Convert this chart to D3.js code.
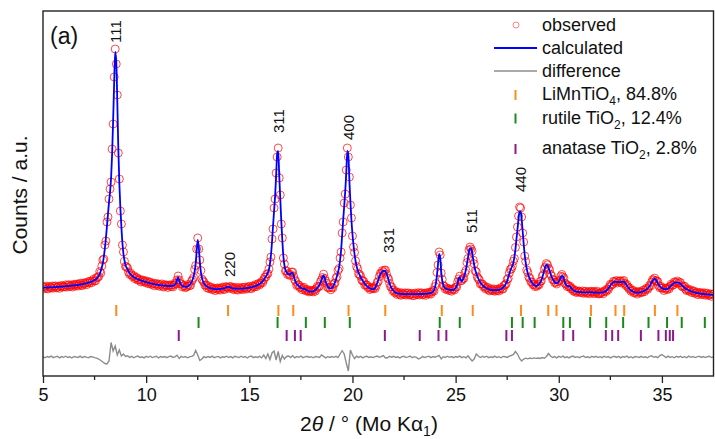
<!DOCTYPE html>
<html><head><meta charset="utf-8">
<script src="https://cdn.jsdelivr.net/npm/d3@7"></script>
<style>body{margin:0;background:#fff}svg{display:block}text{font-family:"Liberation Sans",Arial,sans-serif}</style>
</head><body><svg id="c" width="715" height="439"></svg>
<script>
// 2theta sampling grid of the observed / calculated profiles
const thetaStart = 5, thetaStep = 0.05;
const diffStep = 0.1;

const observed = [
13.2,11.1,12.8,13.9,11.8,11.1,13.6,12.7,12.2,14.0,11.8,13.5,14.1,12.1,12.9,13.9,11.7,13.6,14.5,12.9,
13.7,13.2,15.1,12.9,14.6,15.3,13.3,14.1,15.2,13.0,14.9,15.8,14.2,15.8,13.9,15.6,16.9,14.9,14.4,17.0,
16.0,17.2,15.2,17.3,18.4,17.0,18.9,17.2,19.2,20.8,19.2,19.2,22.4,22.7,23.5,28.5,27.0,34.0,40.0,41.0,
55,59,78,83,101,111,118,151,176,223,251,236,205,147,121,89,76,55,48,38.6,
33.5,33.2,32.0,27.8,25.6,26.8,24.8,23.3,24.3,21.3,22.3,22.4,19.8,20.1,20.7,18.0,19.4,19.9,17.9,19.1,
17.4,18.9,16.3,17.6,17.9,15.6,16.0,16.8,14.3,15.9,16.5,14.6,15.9,13.7,15.1,16.1,13.8,13.0,15.3,14.3,
14.9,12.5,14.3,15.1,13.4,15.0,13.1,15.0,16.8,16.3,20.1,24.0,20.1,16.3,16.3,13.1,14.2,14.5,12.3,13.1,
14.0,15.6,14.2,14.7,18.8,20.3,22.5,30.5,34.5,51,62,51,40,29.5,21.0,19.3,17.9,14.7,15.1,12.2,
14.1,11.3,12.5,12.8,10.4,10.9,11.8,9.4,11.2,12.0,10.3,11.9,9.9,11.6,12.9,10.9,10.5,13.3,12.9,12.7,
11.7,13.2,13.5,11.4,12.6,10.3,11.8,12.8,10.6,9.9,12.3,11.4,10.9,12.7,10.5,12.2,12.9,10.9,11.8,12.9,
13.8,11.8,11.3,14.0,13.4,13.1,15.3,13.4,15.5,16.6,15.1,16.6,18.5,17.3,20.4,22.8,23.0,25.9,26.3,30.9,
38,43,61,71,92,101,127,143,152,122,105,76,62,42,36,29,29.2,25.6,26.7,24.6,
25.3,27.8,28.0,23.6,20.3,18.6,14.5,15.3,15.1,12.4,13.1,10.4,11.7,12.7,10.3,9.0,10.6,9.1,8.1,9.7,
8.6,9.5,8.1,10.1,8.8,11.4,13.7,12.9,13.8,18.2,20.1,22.5,25.8,21.5,19.1,16.7,12.6,12.1,12.6,10.2,
12.7,12.1,16.2,17.0,21.6,23.2,29.5,31.5,42,48,67,78,97,106,130,152,143,123,95,82,
64,53,47.5,39.1,33.5,31.3,26.0,25.6,23.7,19.9,19.1,18.6,14.8,15.3,15.0,12.4,13.2,10.5,11.6,12.4,
11.4,12.4,11.4,14.3,17.8,18.5,23.3,26.6,26.7,29.4,28.0,29.7,30.0,25.8,22.1,21.0,16.6,13.3,13.1,9.3,
10.1,7.4,8.2,5.6,6.9,7.8,5.5,4.7,7.0,6.1,5.4,7.2,4.9,6.5,7.1,5.0,5.7,6.7,4.4,6.2,
4.5,6.9,6.0,5.4,7.3,5.0,6.6,7.2,5.1,5.9,6.9,4.7,6.6,7.5,6.0,7.7,5.9,7.9,9.7,8.9,
13.5,16.5,27.5,35,48,45,27,20.5,14.5,13.6,10.9,12.1,10.2,11.4,9.5,10.9,8.8,10.6,11.2,10.1,
12.9,13.0,18.2,21.0,23.8,19.2,19.6,21.2,21.8,27.1,29.6,37.5,41.5,50.0,53.0,51.0,48.8,40,36.2,29.1,
28.2,23.1,21.3,20.1,16.0,16.3,15.9,13.2,13.9,11.1,12.1,12.7,10.1,9.1,11.2,10.1,9.4,11.1,8.8,10.4,
9.3,10.9,9.0,10.9,12.5,10.9,11.1,14.6,15.1,16.3,20.6,21.5,27.0,30.5,31.1,33.8,38.8,41.5,52.5,63,
73,84,93,92,83,67,58,44,38.5,30,27.5,22.6,21.8,18.2,17.9,15.3,15.6,13.4,14.8,13.8,
15.6,15.3,18.6,19.0,23.8,25.4,31.2,33.0,36.5,35.2,31.8,30.3,25.8,24.1,20.5,20.2,17.3,17.8,16.0,18.0,
19.2,19.6,23.7,25.5,23.2,21.8,16.7,15.9,13.5,14.8,13.1,13.7,11.2,11.6,9.1,9.9,8.0,9.3,7.4,8.6,
8.9,7.9,7.3,9.0,6.7,8.2,8.8,6.7,7.4,8.5,6.3,8.1,8.8,7.0,8.4,6.3,7.9,8.9,6.7,6.0,
6.5,7.2,8.3,6.2,8.3,9.6,8.6,11.1,10.2,13.2,15.8,15.0,15.5,18.7,18.3,17.8,19.5,17.0,18.5,19.1,
18.9,17.0,18.7,19.6,16.6,14.6,15.5,13.1,11.2,11.9,8.7,9.6,9.6,7.1,7.5,8.3,5.9,7.7,8.6,7.1,
8.1,7.8,10.0,8.2,10.4,11.7,10.5,12.3,14.7,14.1,17.8,20.4,20.0,21.9,19.2,19.2,18.3,14.3,12.2,13.6,
11.7,12.2,9.5,11.1,11.9,10.4,12.4,11.1,13.7,15.9,14.8,15.0,18.1,17.6,17.2,19.0,16.5,17.6,17.4,14.3,
13.0,13.6,13.8,10.8,9.4,11.2,9.8,8.7,10.1,7.4,8.7,9.0,6.6,7.0,7.8,5.3,6.9,7.5,5.7,7.0,
5.5,7.2,4.8,6.3,6.8,4.6,5.2,6.1,3.7,5.4,6.1];

const calculated = [
12.3,12.3,12.4,12.4,12.5,12.5,12.6,12.6,12.7,12.7,12.8,12.9,12.9,13.0,13.1,13.1,13.2,13.3,13.4,13.5,
13.6,13.7,13.8,13.9,14.0,14.1,14.2,14.3,14.4,14.5,14.6,14.7,14.8,14.9,15.1,15.2,15.4,15.6,15.8,16.0,
16.2,16.4,16.7,17.0,17.3,17.6,18.0,18.4,18.8,19.3,19.9,20.6,21.4,22.6,24.0,26.0,29.0,32.5,37.0,43.5,
52,62,74,86,98,108,122,146,180,218,248,239,200,152,117,92,73,57,46,39.5,
35,32.5,30.5,28.5,27,25.8,24.7,23.8,23,22.3,21.7,21.2,20.7,20.3,19.9,19.5,19.1,18.8,18.5,18.2,
17.9,17.6,17.3,17.0,16.7,16.5,16.2,16.0,15.8,15.6,15.4,15.2,15.0,14.9,14.7,14.6,14.5,14.4,14.3,14.2,
14.1,14.0,14.0,14.0,14.0,14.1,14.3,14.6,15.3,17.0,20.5,22.5,20.0,16.8,15.0,14.1,13.6,13.3,13.2,13.3,
13.6,14.1,14.9,16.1,17.8,20.2,23.5,28.5,36.5,49,60,53,39,28.5,22.5,19,16.8,15.3,14.2,13.4,
12.8,12.3,11.9,11.6,11.3,11.1,11.0,10.9,10.9,10.9,10.9,11.0,11.1,11.2,11.4,11.6,11.9,12.3,12.8,13.2,
13.2,12.9,12.4,12.0,11.7,11.5,11.4,11.3,11.3,11.3,11.3,11.3,11.4,11.4,11.5,11.6,11.7,11.8,12.0,12.1,
12.3,12.5,12.7,13.0,13.3,13.6,14.0,14.4,14.9,15.4,16.0,16.8,17.7,18.8,20.1,21.7,23.6,25,27.5,30.5,
36,45,58,74,89,104,124,146,149,125,102,79,60,44,35,30,28,26.5,25.5,25.5,
26.3,27.2,26.8,24.5,20.5,17.8,16.0,15.0,14.0,13.0,12.2,11.6,11.3,11.2,11.0,10.4,9.6,9.0,8.6,8.4,
8.3,8.4,8.7,9.2,10.0,11.0,12.2,13.6,15.2,17.2,20.0,23.0,24.5,22.5,18.5,15.5,13.5,12.3,11.8,11.7,
12.0,13.0,15.0,17.5,20.5,24,28,32.5,40,50,65,80,94,109,127,149,145,120,98,80,
66,55,46,39,34,30,27,25,22.5,20.8,19.3,17.8,16.3,15.0,13.9,13.0,12.3,11.7,11.2,10.9,
10.8,11.2,12.3,14.5,17,20,23,25.5,27.3,28.5,29.2,29.3,28.5,26.5,23.5,20.0,16.5,13.8,11.8,10.3,
9.0,8.0,7.3,6.8,6.5,6.3,6.2,6.1,6.0,6.0,5.9,5.9,5.9,5.9,5.9,5.9,5.9,5.9,5.9,5.9,
5.9,5.9,5.9,5.9,6.0,6.0,6.0,6.0,6.0,6.1,6.1,6.2,6.3,6.4,6.6,6.8,7.1,7.5,8.2,9.6,
12.8,17.5,25.5,37,46,43,29,19.5,15,12.8,11.8,11.2,10.8,10.5,10.3,10.1,10.0,10.0,10.3,10.9,
12.0,13.8,17.0,21.5,22.5,20.0,19.0,20.0,22.5,26.0,30.5,36,42.5,48.5,51.5,51.5,47.5,41,35,30,
27,24,21.5,19.3,17.5,16.0,14.8,13.8,13.0,12.3,11.7,11.2,10.8,10.5,10.2,10.0,9.9,9.8,9.8,9.8,
9.9,10.0,10.2,10.5,11.0,11.6,12.5,13.6,15.0,16.8,19.3,22.5,26.0,29.3,32.0,34.0,37.5,43,51,61,
71,81,88.5,88.3,81,69,56,45,37,31,26.5,23.5,21,19,17.3,16,15,14.3,14.0,14.3,
15.0,16.0,17.5,19.5,22.5,26.0,30.0,33.5,35.0,34.5,32.5,29.5,26.5,23.5,21.2,19.4,18.0,17.0,16.8,17.3,
18.5,20.3,22.5,24.2,24.0,21.0,17.5,15.3,14.3,14.0,13.8,13.2,12.0,10.8,9.9,9.2,8.7,8.4,8.2,8.0,
7.9,7.8,7.8,7.7,7.7,7.6,7.6,7.6,7.6,7.7,7.8,7.8,7.7,7.6,7.5,7.5,7.5,7.4,7.4,7.4,
7.4,7.4,7.5,7.7,8.0,8.5,9.2,10.2,11.4,12.8,14.3,15.7,16.9,17.7,18.2,18.3,18.2,18.0,17.9,17.9,
18.0,18.2,18.3,18.1,17.3,16.0,14.5,13.0,11.7,10.6,9.7,9.0,8.4,8.0,7.7,7.5,7.4,7.4,7.5,7.7,
8.0,8.3,8.7,9.2,9.8,10.5,11.4,12.5,13.9,15.6,17.5,19.3,20.6,21.0,20.4,18.8,16.8,15.0,13.6,12.6,
11.9,11.4,11.0,10.8,10.8,11.0,11.5,12.3,13.3,14.4,15.5,16.4,17.1,17.5,17.7,17.7,17.5,17.0,16.2,15.2,
14.2,13.2,12.3,11.5,10.8,10.2,9.7,9.2,8.8,8.4,8.1,7.8,7.5,7.2,7.0,6.8,6.6,6.4,6.3,6.1,
6.0,5.9,5.8,5.7,5.6,5.5,5.4,5.3,5.2,5.1,5.0];

const difference = [
0.3,-0.8,0.5,-0.2,0.9,-0.6,0.1,0.7,-0.9,0.4,
-0.3,0.8,-0.5,0.2,-1.0,0.6,0.0,-0.4,0.9,-0.7,
0.5,-0.2,-0.8,0.4,0.1,-0.6,-1.2,-2.0,-3.5,-5.0,
-6.5,-7.0,-4.0,14.5,6.0,11.0,2.0,7.0,1.0,3.0,
0.5,1.2,-0.4,0.6,-0.8,0.3,0.9,-0.5,0.2,-0.9,
0.6,-0.3,0.8,-0.6,0.1,0.7,-1.0,0.4,-0.2,0.5,
-0.7,0.3,0.9,-0.4,0.2,1.8,-1.5,0.6,-0.3,0.4,
-0.8,0.2,0.6,1.5,6.5,2.0,-3.5,-2.0,0.3,-0.6,
0.5,-0.4,0.9,-0.7,0.2,0.6,-0.9,0.3,-0.2,0.8,
-0.5,0.4,-0.9,0.7,0.1,-0.6,0.8,-0.3,0.5,-1.0,
0.3,0.9,-0.6,0.2,-0.4,0.7,-0.8,2.0,-1.5,3.0,
-2.5,4.0,6.0,-3.0,5.5,-4.5,1.5,-2.0,0.5,1.0,
-0.5,1.2,-0.8,0.4,-0.3,0.9,-0.6,0.2,0.7,-0.4,
0.3,-0.8,0.5,0.1,-0.4,2.0,0.6,-0.9,0.3,-0.5,
0.4,-0.3,0.7,-0.6,3.0,6.3,3.0,-6.0,-14.0,7.0,
2.0,-1.5,0.8,-0.4,0.6,-0.9,0.3,0.7,-0.5,0.2,
-0.6,0.4,0.9,-0.3,0.5,1.5,-1.0,-0.8,0.6,-0.2,
0.7,-0.5,0.2,-0.9,0.4,0.8,-0.6,0.1,0.9,-0.7,
0.3,-0.4,-2.0,-1.2,0.6,-0.5,0.2,0.8,-0.6,0.4,
-0.2,0.6,1.5,-1.8,0.3,-0.5,0.8,-0.3,0.4,-0.7,
0.5,-0.2,0.9,-0.6,0.3,-0.8,1.2,-1.5,-4.0,-2.0,
3.0,1.0,-0.5,0.6,-0.3,0.8,-0.6,0.2,-0.4,0.9,
-0.5,0.3,-0.8,0.6,0.2,-0.4,0.9,1.5,2.5,5.5,
3.0,-1.5,-4.0,-2.0,-1.2,-1.8,-1.0,-1.6,-0.9,-1.4,
-1.0,-1.5,-0.6,-1.2,0.5,3.5,1.0,-0.5,0.4,-0.8,
0.6,-0.3,0.9,-0.6,0.2,-0.9,0.5,0.8,-0.4,0.3,
-0.7,0.4,0.9,-0.5,0.2,-0.8,0.6,-0.2,0.7,-0.5,
0.3,-0.6,0.8,-0.3,0.5,-0.9,0.2,0.7,-0.4,0.6,
-0.8,0.4,-0.2,0.9,-0.6,0.3,-0.9,0.5,0.1,-0.4,
0.7,-0.5,0.2,-0.8,0.6,1.2,-0.3,0.4,-0.7,1.5,
2.5,1.0,-0.6,0.8,-0.4,0.3,-0.8,0.6,-0.2,0.7,
-0.5,0.3,-0.7,0.9,-0.3,0.5,-0.6,0.2,0.8,-0.4,
0.4,-0.6,0.3,0.8,-0.5,0.2];

// Bragg reflection positions (2theta, deg)
const limnTicks = [8.55,13.97,16.41,17.13,19.81,21.59,24.33,25.83,28.17,29.49,29.89,31.56,32.75,33.17,34.66,35.75];
const rutileTicks = [12.54,16.37,17.74,18.66,19.87,24.23,25.20,27.73,28.25,28.83,30.22,30.54,31.52,32.30,33.12,34.35,35.25,35.96,37.08];
const anataseTicks = [11.58,16.81,17.21,17.49,21.57,23.26,24.17,24.55,27.46,27.73,30.22,30.70,32.28,32.59,32.88,33.98,34.83,35.19,35.38,35.54];

const xTickLabels = [5,10,15,20,25,30,35];
const xMinorTicks = [7.5,12.5,17.5,22.5,27.5,32.5];

// hkl annotations: text, 2theta, intensity level of label start
const hklText  = ["111","220","311","400","331","511","440"];
const hklTheta = [8.50,14.05,16.42,19.81,21.75,25.77,28.14];
const hklLevel = [257,23,167,160,47,67,108];

const legendLabels = ["observed","calculated","difference"];
const phaseNames = [["LiMnTiO","4",", 84.8%"],["rutile TiO","2",", 12.4%"],["anatase TiO","2",", 2.8%"]];

// ---------------------------------------------------------------
const svg = d3.select("#c");
svg.append("rect").attr("width",715).attr("height",439).attr("fill","#fff");

const L = 43, R = 713.5, T = 11, B = 376;
const x = d3.scaleLinear().domain([5,37.5]).range([L,R]);
const y = d3.scaleLinear().domain([-76,289]).range([B,T]);
const diffOffset = -57;

const obsPts = observed.map((v,i)=>({t: thetaStart + i*thetaStep, v}));
const calcPts = calculated.map((v,i)=>({t: thetaStart + i*thetaStep, v}));
const diffPts = difference.map((v,i)=>({t: thetaStart + i*diffStep, v}));

const plot = svg.append("g");
plot.append("defs").append("clipPath").attr("id","clip")
  .append("rect").attr("x",L).attr("y",T).attr("width",R-L).attr("height",B-T);
const inner = plot.append("g").attr("clip-path","url(#clip)");

inner.append("g").selectAll("circle").data(obsPts).join("circle")
  .attr("cx",d=>x(d.t)).attr("cy",d=>y(d.v)).attr("r",4)
  .attr("fill","none").attr("stroke","#ff0000").attr("stroke-width",1).attr("stroke-opacity",0.7);

inner.append("path").datum(calcPts)
  .attr("d", d3.line().x(d=>x(d.t)).y(d=>y(d.v)).curve(d3.curveMonotoneX))
  .attr("fill","none").attr("stroke","#0000ff").attr("stroke-width",1.8);

inner.append("path").datum(diffPts)
  .attr("d", d3.line().x(d=>x(d.t)).y(d=>y(d.v + diffOffset)))
  .attr("fill","none").attr("stroke","#8c8c8c").attr("stroke-width",1.4);

const rows = [
  {data: limnTicks, color: "#ff8c1a", y0: 305, y1: 316},
  {data: rutileTicks, color: "#1a8a1a", y0: 317, y1: 328},
  {data: anataseTicks, color: "#8b1a8b", y0: 330, y1: 341}
];
rows.forEach(r=>{
  inner.append("g").selectAll("line").data(r.data).join("line")
    .attr("x1",d=>x(d)).attr("x2",d=>x(d)).attr("y1",r.y0).attr("y2",r.y1)
    .attr("stroke",r.color).attr("stroke-width",2);
});

// hkl labels
hklText.forEach((t,i)=>{
  plot.append("text")
    .attr("transform",`translate(${x(hklTheta[i])},${y(hklLevel[i])}) rotate(-90)`)
    .attr("dy","0.36em").attr("font-size",15).attr("fill","#111").text(t);
});

// axes
const xAxis = d3.axisBottom(x).tickValues(xTickLabels).tickSize(7).tickPadding(5).tickFormat(d3.format("d"));
const ax = plot.append("g").attr("transform",`translate(0,${B})`).call(xAxis);
ax.select(".domain").remove();
ax.selectAll(".tick line").attr("stroke","#222").attr("stroke-width",1.3);
ax.selectAll(".tick text").attr("font-size",18).attr("fill","#111")
  .attr("font-family",'"Liberation Sans",Arial,sans-serif');
plot.append("g").selectAll("line").data(xMinorTicks).join("line")
  .attr("x1",d=>x(d)).attr("x2",d=>x(d)).attr("y1",B).attr("y2",B+4)
  .attr("stroke","#222").attr("stroke-width",1.3);

plot.append("rect").attr("x",L).attr("y",T).attr("width",R-L).attr("height",B-T)
  .attr("fill","none").attr("stroke","#222").attr("stroke-width",1.4);

// axis titles
const xt = svg.append("text").attr("x",369).attr("y",431).attr("text-anchor","middle")
  .attr("font-size",21).attr("fill","#111");
xt.append("tspan").text("2");
xt.append("tspan").attr("font-style","italic").text("θ");
xt.append("tspan").text(" / ° (Mo K");
xt.append("tspan").text("α");
xt.append("tspan").attr("dy",5).attr("font-size",14).text("1");
xt.append("tspan").attr("dy",-5).text(")");

svg.append("text").attr("transform","translate(27,195) rotate(-90)").attr("text-anchor","middle")
  .attr("font-size",21).attr("fill","#111").text("Counts / a.u.");

svg.append("text").attr("x",50).attr("y",44).attr("font-size",23).attr("fill","#111").text("(a)");

// legend
const lg = svg.append("g");
const tx = 542;
lg.append("circle").attr("cx",516).attr("cy",25).attr("r",3)
  .attr("fill","none").attr("stroke","#ff5050").attr("stroke-opacity",0.7).attr("stroke-width",1);
lg.append("text").attr("x",tx).attr("y",31).attr("font-size",18).attr("fill","#111").text(legendLabels[0]);
lg.append("line").attr("x1",494).attr("x2",537).attr("y1",48).attr("y2",48).attr("stroke","#0000ff").attr("stroke-width",1.8);
lg.append("text").attr("x",tx).attr("y",54).attr("font-size",18).attr("fill","#111").text(legendLabels[1]);
lg.append("line").attr("x1",494).attr("x2",537).attr("y1",71).attr("y2",71).attr("stroke","#8c8c8c").attr("stroke-width",1.4);
lg.append("text").attr("x",tx).attr("y",77).attr("font-size",18).attr("fill","#111").text(legendLabels[2]);

const phaseY = [100,123.5,154];
rows.forEach((r,i)=>{
  lg.append("line").attr("x1",515.5).attr("x2",515.5).attr("y1",phaseY[i]-10).attr("y2",phaseY[i])
    .attr("stroke",r.color).attr("stroke-width",2);
  const t = lg.append("text").attr("x",tx).attr("y",phaseY[i]).attr("font-size",18).attr("fill","#111");
  t.append("tspan").text(phaseNames[i][0]);
  t.append("tspan").attr("dy",5).attr("font-size",12).text(phaseNames[i][1]);
  t.append("tspan").attr("dy",-5).text(phaseNames[i][2]);
});
</script></body></html>
